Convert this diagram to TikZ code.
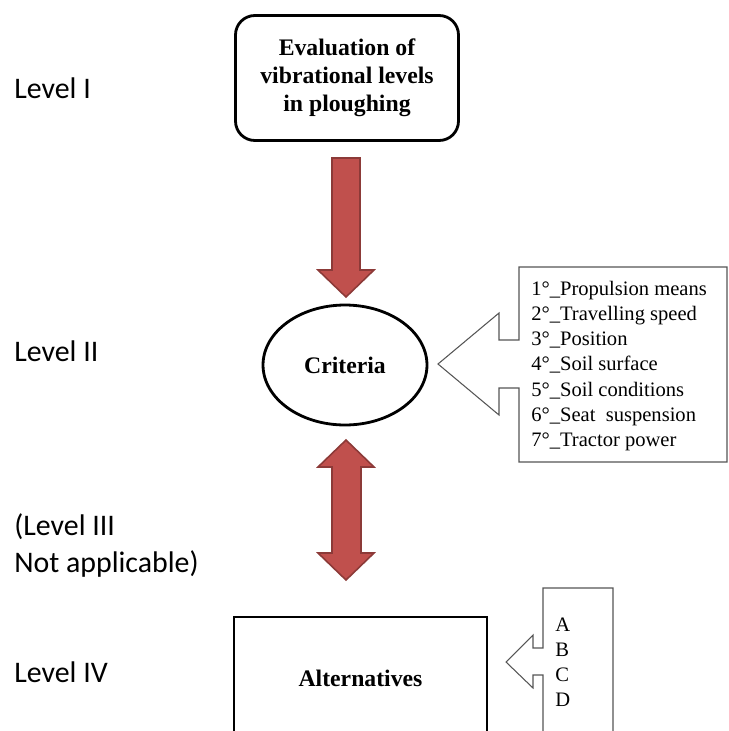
\documentclass[tikz,border=0pt]{standalone}
\usepackage{fontspec}
\setmainfont{Liberation Serif}
\newfontfamily\lvlfont{Carlito}
\usetikzlibrary{shapes.geometric}
\definecolor{arrowred}{HTML}{C0504D}
\definecolor{arrowedge}{HTML}{8C3A38}
\definecolor{calloutgray}{HTML}{555555}

\begin{document}
\begin{tikzpicture}[x=0.02cm, y=-0.02cm,
	level/.style={anchor=base west, inner sep=0, font=\lvlfont\fontsize{17}{20.5}\selectfont, align=left},
	bold/.style={font=\bfseries\fontsize{13.5}{16}\selectfont, align=center},
	bigarrow/.style={fill=arrowred, draw=arrowedge, line width=0.9pt, line join=miter},
	callout/.style={draw=calloutgray, line width=0.6pt, fill=white},
	listtext/.style={anchor=west, inner sep=0, align=left, font=\fontsize{11.7}{14.3}\selectfont}]
		\useasboundingbox (0,0) rectangle (729,731);
		\clip (0,0) rectangle (729,731);
		% level labels
		\node[level] (l1) at (14, 98) {Level I};
		\node[level] (l2) at (14, 361) {Level II};
		\node[level] (l3) at (14, 572) {(Level III\\Not applicable)};
		\node[level] (l4) at (14, 682) {Level IV};
		% main boxes
		\node[bold, draw, line width=1.6pt, rounded corners=11pt, minimum width=4.46cm, minimum height=2.5cm] (eval) at (347, 78) {Evaluation of\\vibrational levels\\in ploughing};
		\node[bold, draw, ellipse, line width=1.6pt, minimum width=3.28cm, minimum height=2.4cm, inner sep=0] (crit) at (345, 365) {Criteria};
		\node[bold, draw, line width=1.6pt, minimum width=5.06cm, minimum height=2.44cm] (alt) at (360.5, 678) {Alternatives};
		% block arrows
		\draw[bigarrow] (332,158) -- (360,158) -- (360,270) -- (374,270) -- (346,297) -- (318,270) -- (332,270) -- cycle;
		\draw[bigarrow] (346,440) -- (374,467) -- (361,467) -- (361,553) -- (374,553) -- (346,580) -- (318,553) -- (332,553) -- (332,467) -- (318,467) -- cycle;
		% callouts
		\draw[callout] (519,267) -- (727,267) -- (727,462) -- (519,462) -- (519,388) -- (499,388) -- (499,415) -- (438,364) -- (499,313) -- (499,340) -- (519,340) -- cycle;
		\node[listtext] (critlist) at (531, 366) {1°\_Propulsion means\\2°\_Travelling speed\\3°\_Position\\4°\_Soil surface\\5°\_Soil conditions\\6°\_Seat~ suspension\\7°\_Tractor power};
		\draw[callout] (543,588) -- (613,588) -- (613,745) -- (543,745) -- (543,675) -- (533,675) -- (533,688) -- (506,662) -- (533,635) -- (533,648) -- (543,648) -- cycle;
		\node[listtext] (altlist) at (555, 662) {A\\B\\C\\D};
	\end{tikzpicture}
\end{document}
